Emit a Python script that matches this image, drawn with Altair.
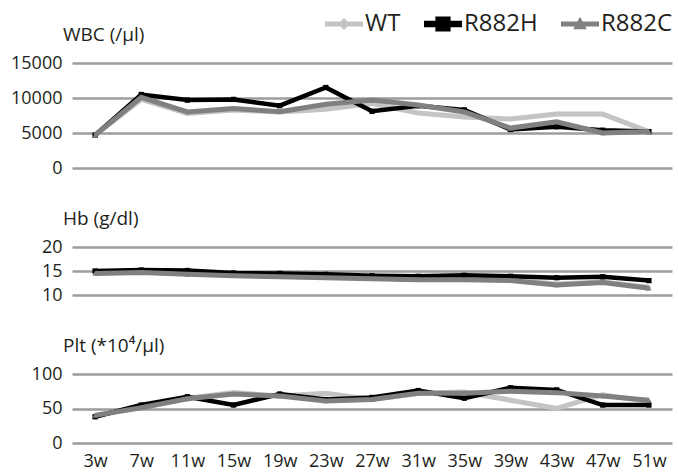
import altair as alt
import pandas as pd

weeks = ["3w", "7w", "11w", "15w", "19w", "23w", "27w", "31w", "35w", "39w", "43w", "47w", "51w"]
series = ["WT", "R882H", "R882C"]
colors = ["#c4c4c4", "#000000", "#808080"]

wbc_wt = [4700, 9800, 7800, 8300, 8000, 8400, 9200, 7850, 7300, 7000, 7700, 7700, 5200]
wbc_h = [4700, 10500, 9700, 9800, 8900, 11500, 8100, 8900, 8300, 5500, 5900, 5400, 5200]
wbc_c = [4700, 10100, 8000, 8500, 8050, 9100, 9700, 9000, 8000, 5700, 6600, 5000, 5200]

hb_wt = [14.6, 14.8, 14.5, 14.2, 13.9, 13.7, 13.5, 13.3, 13.3, 13.1, 12.3, 12.7, 11.6]
hb_h = [15.0, 15.2, 15.1, 14.6, 14.5, 14.3, 14.0, 13.9, 14.1, 13.9, 13.6, 13.8, 13.0]
hb_c = [14.5, 14.7, 14.3, 14.0, 13.8, 13.6, 13.4, 13.2, 13.2, 13.0, 12.1, 12.6, 11.4]

plt_wt = [40, 52, 65, 73, 68, 72, 63, 72, 74, 62, 50, 70, 60]
plt_h = [38, 55, 67, 55, 71, 63, 66, 76, 65, 80, 77, 55, 55]
plt_c = [40, 51, 64, 71, 68, 61, 63, 72, 72, 75, 73, 68, 62]

# legend glyphs: line segment + marker, in the [-1, 1] symbol box
legend_paths = [
    "M-1,-0.13H1V0.13H-1Z M0,-0.32L0.32,0L0,0.32L-0.32,0Z",
    "M-1,-0.17H1V0.17H-1Z M-0.4,-0.4H0.4V0.4H-0.4Z",
    "M-1,-0.13H1V0.13H-1Z M0,-0.38L0.36,0.28H-0.36Z",
]
marker_shapes = ["diamond", "square", "triangle-up"]
line_widths = [5, 4.5, 5]

FONT = "Open Sans"
TEXT = "#231f20"


def to_long(values):
    rows = []
    for s, vals in zip(series, values):
        for w, v in zip(weeks, vals):
            rows.append({"week": w, "series": s, "value": v})
    return pd.DataFrame(rows)


def panel(df, title, domain, ticks, height, show_x, with_legend=False):
    base = alt.Chart(df)
    x = alt.X(
        "week:N",
        sort=weeks,
        title=None,
        scale=alt.Scale(type="point", padding=0.5),
        axis=alt.Axis(labelAngle=0, labelFontSize=18, labelFont=FONT, labelColor=TEXT,
                      labelPadding=9, ticks=False, domain=False, grid=False) if show_x else None,
    )
    y = alt.Y(
        "value:Q",
        title=None,
        scale=alt.Scale(domain=domain, nice=False, zero=False),
        axis=alt.Axis(values=ticks, format="d", labelFontSize=18, labelFont=FONT, labelColor=TEXT,
                      labelPadding=10, ticks=False, domain=False, grid=True,
                      gridColor="#9d9d9d", gridWidth=2.5, gridOpacity=1),
    )
    layers = []
    for s, c, sw, shp in zip(series, colors, line_widths, marker_shapes):
        sub = base.transform_filter(alt.datum.series == s)
        layers.append(sub.mark_line(strokeWidth=sw, color=c).encode(x=x, y=y))
        layers.append(sub.mark_point(shape=shp, filled=True, size=28, opacity=1, color=c).encode(x=x, y=y))
    if with_legend:
        layers.append(base.transform_filter("false").mark_point(filled=True, size=1444, opacity=1).encode(
            x=x, y=y,
            color=alt.Color("series:N", scale=alt.Scale(domain=series, range=colors),
                            legend=alt.Legend(title=None)),
            shape=alt.Shape("series:N", scale=alt.Scale(domain=series, range=legend_paths),
                            legend=alt.Legend(title=None)),
        ))
    return alt.layer(*layers).properties(
        width=600, height=height,
        title=alt.TitleParams(title, anchor="start", frame="group", fontSize=19, font=FONT,
                              fontWeight="normal", color=TEXT, dx=-9, offset=9),
    )


p1 = panel(to_long([wbc_wt, wbc_h, wbc_c]), "WBC (/μl)", [0, 15000], [0, 5000, 10000, 15000], 105, False, True)
p2 = panel(to_long([hb_wt, hb_h, hb_c]), "Hb (g/dl)", [10, 20], [10, 15, 20], 48, False)
p3 = panel(to_long([plt_wt, plt_h, plt_c]), "Plt (*10⁴/μl)", [0, 100], [0, 50, 100], 69, True)

chart = alt.vconcat(p1, p2, p3, spacing=79, bounds="flush").properties(
    padding={"left": 10, "top": 5, "right": 5, "bottom": 5}
).configure_view(stroke=None).configure_legend(
    orient="none", direction="horizontal", legendX=253, legendY=-58,
    labelFont=FONT, labelFontSize=24, labelColor=TEXT, labelOffset=2,
    symbolSize=1444, symbolStrokeWidth=0, columnPadding=23, symbolOpacity=1,
)

chart.save("out.html", embed_options={"renderer": "svg", "actions": False})
